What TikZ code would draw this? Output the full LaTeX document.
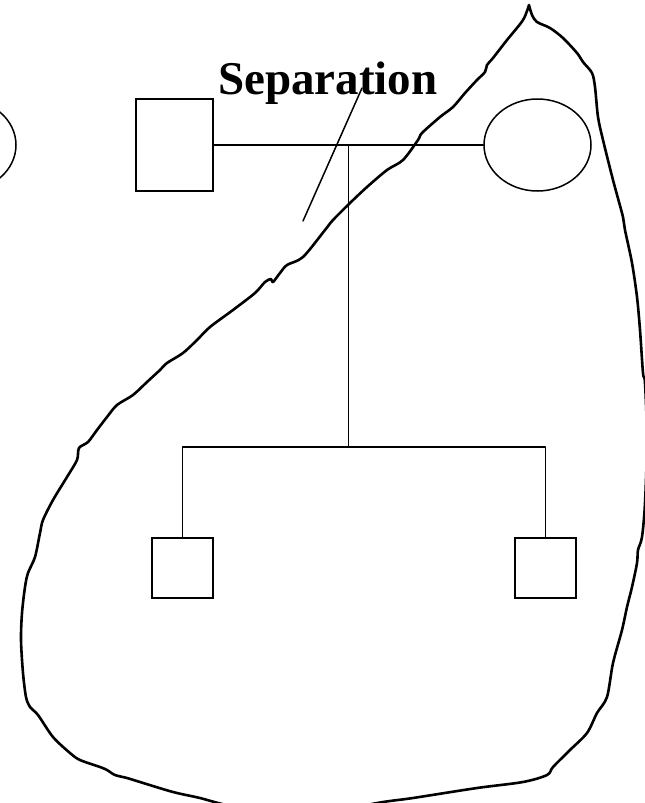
\documentclass[tikz,border=0pt]{standalone}
\usepackage{fontspec}
\setmainfont{Liberation Serif}
\usetikzlibrary{shapes.geometric}
\begin{document}
\begin{tikzpicture}[x=1pt,y=-1pt,
  thinline/.style={line width=1.5pt,line cap=round,line join=round},
  blobline/.style={line width=2.6pt,line cap=round,line join=round},
  malebox/.style={draw,rectangle,line width=1.5pt,inner sep=0pt},
  femaleoval/.style={draw,ellipse,line width=1.5pt,inner sep=0pt,minimum width=107pt,minimum height=92pt},
  labeltext/.style={font=\bfseries\fontsize{47}{50}\selectfont,inner sep=0pt,anchor=base west}]
\clip (0,0) rectangle (645,803);
\fill[white] (0,0) rectangle (645,803);
% blob outline
\draw[blobline] plot[smooth,tension=0.5] coordinates {
 (529,5) (523,20) (507,40) (493,58) (487,65) (485,72) (477,80) (465,93) (453,107) (440,117)
 (422,133) (418,140) (403,160) (387,170) (367,187) (350,203) (333,220) (325,230) (303,257)
 (287,265) (280,273) (273,282) (271,279) (265,282) (255,293) (233,310) (210,327) (197,340)
 (183,353) (167,363) (160,370) (147,382) (133,395) (117,405) (107,417) (97,430) (88,442)
 (79,448) (77,460) (67,477) (53,500) (43,520) (40,533) (35,557) (28,573) (25,587) (22,613)
 (21,640) (23,673) (26,697) (30,707) (38,715) (53,737) (70,753) (80,760) (100,767) (107,770)
 (115,775) (127,778) (140,782) (173,792) (200,798) (222,804) (295,822) (372,804) (413,798)
 (477,788) (523,782) (547,775) (553,767) (570,750) (587,733) (597,713) (607,697) (613,663)
 (622,630) (627,607) (632,587) (637,563) (638,550) (642,537) (645,503) (647,440) (645,383)
 (643,373) (640,330) (637,297) (632,263) (625,230) (623,217) (613,180) (603,140) (598,117)
 (595,87) (592,73) (583,62) (577,53) (563,38) (550,28) (537,22) (532,15) (529,5)};
% nodes
\node[femaleoval] (exwife) at (-37.5,145) {};
\node[malebox,minimum width=77pt,minimum height=92pt] (father) at (174.5,145) {};
\node[femaleoval] (mother) at (537.5,145) {};
\node[malebox,minimum width=61pt,minimum height=60pt] (son1) at (182.5,568) {};
\node[malebox,minimum width=61pt,minimum height=60pt] (son2) at (545.5,568) {};
\node[labeltext] (sep) at (218,94) {Separation};
% connectors
\coordinate (mid) at (348.3,145);
\coordinate (sib) at (348.3,447);
\draw[thinline] (father.east) -- (mother.west);
\draw[thinline] (mid) -- (sib);
\draw[thinline] (son1.north) -- (son1.north |- sib) -- (son2.north |- sib) -- (son2.north);
% separation slash
\coordinate (sa) at (362,88);
\coordinate (sb) at (303,221);
\draw[thinline] (sa) -- (sb);
\end{tikzpicture}
\end{document}
